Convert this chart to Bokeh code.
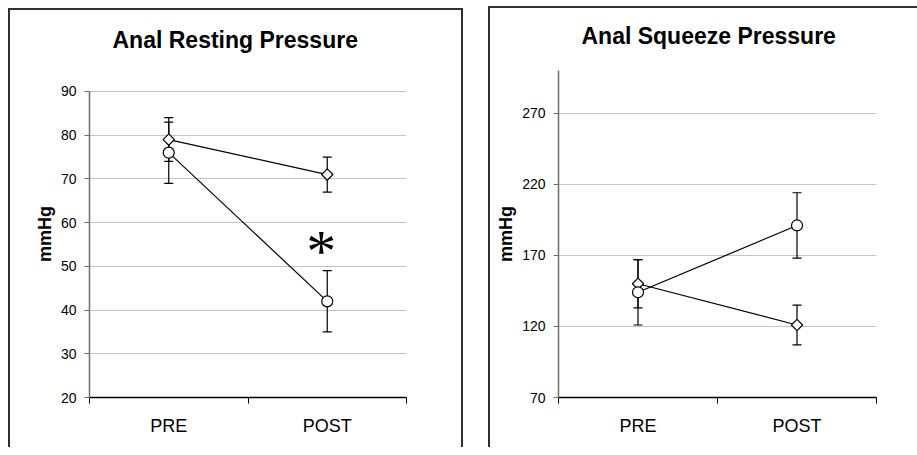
from bokeh.plotting import figure
from bokeh.models import ColumnDataSource, Range1d, FixedTicker, Whisker, TeeHead, Title
from bokeh.layouts import row
from bokeh.core.properties import value
from bokeh.embed import file_html
from bokeh.resources import INLINE
import math

# ---------------- data ----------------
categories = ["PRE", "POST"]

resting_title = "Anal Resting Pressure"
resting_circle = [76, 42]
resting_circle_err = [7, 7]
resting_diamond = [79, 71]
resting_diamond_err = [5, 4]
resting_ticks = [20, 30, 40, 50, 60, 70, 80, 90]
resting_range = (20, 94.8)
resting_star_category = ["POST"]
resting_star_value = [55]

squeeze_title = "Anal Squeeze Pressure"
squeeze_circle = [144, 191]
squeeze_circle_err = [23, 23]
squeeze_diamond = [150, 121]
squeeze_diamond_err = [17, 14]
squeeze_ticks = [70, 120, 170, 220, 270]
squeeze_range = (70, 300)

y_label = "mmHg"

FONT = "Liberation Sans"
H = 439


def make_panel(title, yrange, ticks, circle, circle_err, diamond, diamond_err,
               width, borders, title_gap, title_offset,
               star_cat=None, star_val=None):
    xpos = [categories.index(c) + 0.5 for c in categories]
    p = figure(width=width, height=H, title=None,
               x_range=Range1d(0, len(categories)),
               y_range=Range1d(*yrange),
               output_backend="svg", toolbar_location=None,
               min_border_left=borders[0], min_border_right=borders[1],
               min_border_top=borders[2], min_border_bottom=borders[3])
    p.border_fill_color = None
    p.background_fill_color = None
    p.outline_line_color = None

    # title (a thin spacer title keeps the real one away from the frame)
    p.add_layout(Title(text=" ", text_font_size="1px", standoff=title_gap), "above")
    p.add_layout(Title(text=title, align="left", offset=title_offset, standoff=0,
                       text_font=FONT, text_font_size="23px", text_font_style="bold",
                       text_color="black"), "above")

    # grid
    p.xgrid.visible = False
    p.ygrid.ticker = FixedTicker(ticks=ticks)
    p.ygrid.grid_line_color = "#c4c4c4"
    p.ygrid.grid_line_width = 1

    # y axis
    ya = p.yaxis[0]
    ya.ticker = FixedTicker(ticks=ticks)
    ya.bounds = (yrange[0], yrange[1] if yrange[1] - ticks[-1] > 10 else ticks[-1])
    ya.axis_line_color = "#6e6e6e"
    ya.axis_line_width = 1.5
    ya.major_tick_line_color = "#6e6e6e"
    ya.major_tick_out = 5
    ya.major_tick_in = 0
    ya.minor_tick_line_color = None
    ya.major_label_standoff = 8
    ya.major_label_text_font = FONT
    ya.major_label_text_font_size = "14px"
    ya.major_label_text_color = "black"
    ya.axis_label = y_label
    ya.axis_label_text_font = FONT
    ya.axis_label_text_font_size = "18px"
    ya.axis_label_text_font_style = "bold"
    ya.axis_label_text_color = "black"
    ya.axis_label_standoff = 3

    # x axis: labels at category centres, ticks at category boundaries
    xa = p.xaxis[0]
    xa.ticker = FixedTicker(ticks=xpos, minor_ticks=list(range(len(categories) + 1)))
    xa.major_label_overrides = {x: c for x, c in zip(xpos, categories)}
    xa.axis_line_color = "black"
    xa.axis_line_width = 1.5
    xa.major_tick_line_color = None
    xa.major_tick_out = 0
    xa.major_tick_in = 0
    xa.minor_tick_line_color = "black"
    xa.minor_tick_line_width = 1
    xa.minor_tick_out = 6
    xa.minor_tick_in = 0
    xa.major_label_standoff = 12
    xa.major_label_text_font = FONT
    xa.major_label_text_font_size = "18px"
    xa.major_label_text_color = "black"

    src_c = ColumnDataSource(dict(x=xpos, y=circle,
                                  lo=[m - e for m, e in zip(circle, circle_err)],
                                  hi=[m + e for m, e in zip(circle, circle_err)]))
    src_d = ColumnDataSource(dict(x=xpos, y=diamond,
                                  lo=[m - e for m, e in zip(diamond, diamond_err)],
                                  hi=[m + e for m, e in zip(diamond, diamond_err)]))

    for src in (src_c, src_d):
        w = Whisker(source=src, base="x", upper="hi", lower="lo", dimension="height",
                    line_color="black", line_width=1.2,
                    upper_head=TeeHead(size=9, line_color="black", line_width=1.2),
                    lower_head=TeeHead(size=9, line_color="black", line_width=1.2))
        p.add_layout(w)

    p.line("x", "y", source=src_d, line_color="black", line_width=1.2)
    p.line("x", "y", source=src_c, line_color="black", line_width=1.2)
    p.scatter("x", "y", source=src_d, marker="square", angle=math.pi / 4, size=8,
              fill_color="white", line_color="black", line_width=1.2)
    p.scatter("x", "y", source=src_c, marker="circle", size=11,
              fill_color="white", line_color="black", line_width=1.2)

    if star_cat:
        sx = [categories.index(c) + 0.5 for c in star_cat]
        p.text(x=sx, y=star_val, text=["*"] * len(sx), x_offset=-6, y_offset=6.5,
               text_font=value("Liberation Serif"), text_font_size="60px",
               text_align="center", text_baseline="middle", text_color="black")
    return p


p1 = make_panel(resting_title, resting_range, resting_ticks,
                resting_circle, resting_circle_err, resting_diamond, resting_diamond_err,
                width=455, borders=(81, 57, 62, 50), title_gap=15, title_offset=23,
                star_cat=resting_star_category, star_val=resting_star_value)
p1.styles = {"box-shadow": "inset 2px 2px 0 0 #303030, inset -2px 0 0 0 #303030"}

p2 = make_panel(squeeze_title, squeeze_range, squeeze_ticks,
                squeeze_circle, squeeze_circle_err, squeeze_diamond, squeeze_diamond_err,
                width=429, borders=(70, 41, 62, 50), title_gap=19, title_offset=23)
p2.styles = {"box-shadow": "inset 2px 0 0 0 #303030, 0 -2px 0 0 #303030"}

layout = row(p1, p2, spacing=25, margin=(8, 0, 0, 8))

open("out.html", "w").write(file_html(layout, INLINE))
